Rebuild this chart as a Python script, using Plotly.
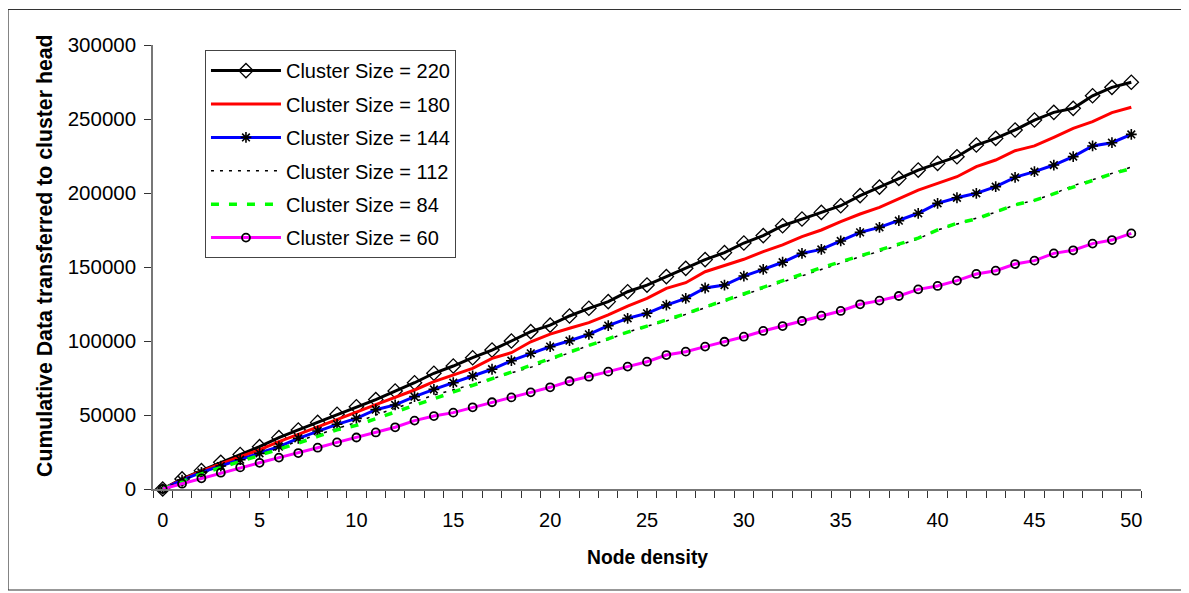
import plotly.graph_objects as go

node_density = list(range(0, 51))

cs220 = [0, 6800, 12400, 18000, 23300, 28600, 34700, 39900, 45000, 50500,
         55600, 60400, 66200, 71800, 78200, 83100, 88700, 93900, 100000, 106300,
         110700, 116900, 122100, 126600, 133300, 137800, 143500, 149100, 155000, 159700,
         166200, 171200, 177900, 182400, 186900, 191400, 198200, 204000, 209900, 215500,
         220000, 224500, 232400, 236900, 242600, 249300, 254500, 257200, 265700, 271400,
         274800]
cs180 = [0, 6500, 12000, 17000, 21800, 26400, 32000, 36900, 42100, 47100,
         52000, 57000, 61900, 66900, 72500, 77000, 81500, 88300, 92100, 99500,
         104600, 108600, 112400, 117600, 123600, 128800, 135600, 139400, 146800, 151000,
         155200, 160400, 164900, 170500, 175000, 180600, 185800, 190300, 196400, 202000,
         206500, 211000, 217800, 222300, 228600, 231800, 237600, 243700, 248200, 254300,
         257900]
cs144 = [0, 6000, 11200, 15500, 19800, 24100, 28600, 34200, 39200, 43700,
         47700, 53600, 56800, 62400, 67300, 71800, 76400, 80900, 86700, 91700,
         96200, 100200, 104500, 110400, 115300, 118700, 124300, 128800, 135800, 137800,
         143900, 148400, 153200, 159200, 161900, 167600, 173400, 176800, 181300, 186300,
         193000, 196800, 199800, 204300, 210600, 214400, 218900, 224600, 231800, 234000,
         239600]
cs112 = [0, 5800, 10800, 15000, 19500, 23500, 27500, 32500, 36500, 41000,
         45000, 50000, 54500, 58500, 63500, 67000, 70500, 74500, 78500, 82200,
         87200, 92000, 97000, 101000, 106000, 110000, 113500, 118000, 122500, 127000,
         131000, 135500, 140000, 144000, 148500, 152500, 157000, 160500, 165000, 169000,
         175000, 179000, 182500, 187000, 192000, 195000, 199500, 205000, 209000, 213500,
         217500]
cs84 = [0, 5300, 10200, 14500, 18500, 22500, 26400, 31000, 35500, 40000,
        43000, 47500, 52500, 56800, 61500, 65800, 70000, 74500, 79000, 83500,
        88000, 93000, 97500, 102000, 106000, 110000, 114000, 118500, 123000, 127500,
        132000, 136500, 141000, 145000, 149500, 153500, 157500, 161000, 165500, 169500,
        175000, 179500, 182500, 187500, 192000, 195000, 199500, 204500, 209000, 213000,
        216500]
cs60 = [0, 3600, 7200, 11000, 14600, 17700, 21200, 24300, 27900, 31500,
        34800, 38200, 41700, 46200, 49300, 51600, 55200, 58600, 61900, 65300,
        68700, 72800, 75900, 79300, 82700, 86000, 90500, 92800, 96200, 99500,
        102900, 106800, 110100, 113500, 117100, 120300, 124800, 127300, 130400, 134900,
        137200, 140800, 145300, 147500, 152000, 154300, 159200, 161300, 165800, 168200,
        172700]

series_names = ["Cluster Size = 220", "Cluster Size = 180", "Cluster Size = 144",
                "Cluster Size = 112", "Cluster Size = 84", "Cluster Size = 60"]
x_tick_vals = [0, 5, 10, 15, 20, 25, 30, 35, 40, 45, 50]
y_tick_vals = [0, 50000, 100000, 150000, 200000, 250000, 300000]
x_title = "Node density"
y_title = "Cumulative Data transferred to cluster head"

FONT = "Liberation Sans, Arial, sans-serif"

fig = go.Figure()

styles = [
    dict(line=dict(color="black", width=3), mode="lines+markers",
         marker=dict(symbol="diamond-open", size=11, color="black", line=dict(width=1.3))),
    dict(line=dict(color="#ff0000", width=3), mode="lines"),
    dict(line=dict(color="#0000ff", width=3), mode="lines+markers",
         marker=dict(symbol="asterisk-open", size=9, color="black", line=dict(width=1.6))),
    dict(line=dict(color="black", width=1.5, dash="3px,6px"), mode="lines"),
    dict(line=dict(color="#00ff00", width=3.5, dash="8px,10px"), mode="lines"),
    dict(line=dict(color="#ff00ff", width=3), mode="lines+markers",
         marker=dict(symbol="circle-open", size=8, color="black", line=dict(width=1.8))),
]
data = [cs220, cs180, cs144, cs112, cs84, cs60]

for i, (name, ys, st) in enumerate(zip(series_names, data, styles)):
    fig.add_trace(go.Scatter(x=node_density, y=ys, name=name, legendgroup=f"g{i}",
                             cliponaxis=False, **st))

fig.update_layout(
    width=1181, height=585,
    margin=dict(l=145, r=48, t=37, b=104),
    paper_bgcolor="white", plot_bgcolor="white",
    font=dict(family=FONT, size=20, color="black"),
    showlegend=True,
    legend=dict(x=0.0526, y=0.9885, xanchor="left", yanchor="top",
                bordercolor="#444", borderwidth=1, bgcolor="white",
                font=dict(family=FONT, size=20, color="black"),
                itemwidth=70, tracegroupgap=4.4,
                traceorder="grouped"),
    xaxis=dict(range=[-0.5, 50.5], tickvals=x_tick_vals, ticks="",
               showgrid=False, zeroline=False, showline=True,
               linecolor="#777", linewidth=1.5,
               tickfont=dict(size=20), ticklabelstandoff=12,
               minor=dict(tick0=0.5, dtick=1, ticks="outside", ticklen=7,
                          tickcolor="#333", tickwidth=1, showgrid=False)),
    yaxis=dict(range=[0, 300000], tickvals=y_tick_vals, tickformat="d",
               ticks="outside", ticklen=7,
               tickcolor="#333", tickwidth=1,
               showgrid=False, zeroline=False, showline=True,
               linecolor="#777", linewidth=1.5,
               tickfont=dict(size=20.5), ticklabelstandoff=4),
    annotations=[
        dict(text=f"<b>{x_title}</b>", xref="paper", yref="paper",
             x=0.5, y=-0.1554, xanchor="center", yanchor="middle",
             showarrow=False, font=dict(size=19.3)),
        dict(text=f"<b>{y_title}</b>", xref="paper", yref="paper",
             x=-0.1093, y=0.5248, xanchor="center", yanchor="middle",
             textangle=-90, showarrow=False, font=dict(size=21.3)),
    ],
)

fig.add_shape(type="rect", xref="paper", yref="paper",
              x0=-0.14676, x1=1.04251, y0=-0.22748, y1=1.07995,
              line=dict(color="#333", width=1.2), fillcolor="rgba(0,0,0,0)", layer="below")

fig.write_html("out.html")
